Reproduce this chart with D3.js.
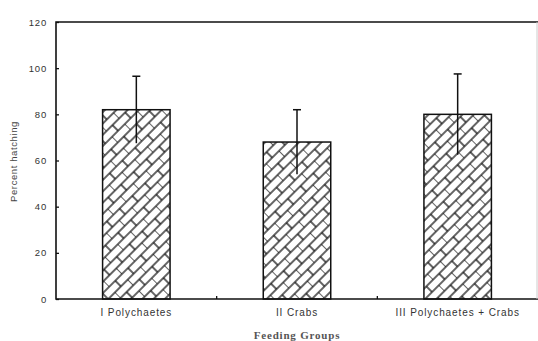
<!DOCTYPE html>
<html>
<head>
<meta charset="utf-8">
<script src="https://cdn.jsdelivr.net/npm/d3@7"></script>
<style>
  body { margin: 0; background: #fff; }
  svg { display: block; }
</style>
</head>
<body>
<svg id="chart" width="538" height="341"></svg>
<script>
// values
var groups = ["I Polychaetes", "II Crabs", "III Polychaetes + Crabs"];
var means = [82, 68, 80];
var errs = [14.5, 14, 17.5];
var yTicks = [0, 20, 40, 60, 80, 100, 120];

var W = 538, H = 341;
var m = {top: 22, right: 0, bottom: 42, left: 56};
var sans = "Liberation Sans, Arial, sans-serif";

var svg = d3.select("#chart");

var x = d3.scaleBand().domain(groups).range([m.left, W - m.right]).paddingInner(0).paddingOuter(0);
var y = d3.scaleLinear().domain([0, 120]).range([H - m.bottom, m.top]);

// brick-like diagonal hatch
var defs = svg.append("defs");
var pat = defs.append("pattern")
  .attr("id", "brick")
  .attr("patternUnits", "userSpaceOnUse")
  .attr("width", 18).attr("height", 16)
  .attr("patternTransform", "rotate(-45)");
pat.append("rect").attr("width", 18).attr("height", 16).attr("fill", "#fff");
[[0, 0, 18, 0], [0, 8, 18, 8], [0, 16, 18, 16], [0, 0, 0, 8], [9, 8, 9, 16]].forEach(function(l) {
  pat.append("line").attr("x1", l[0]).attr("y1", l[1]).attr("x2", l[2]).attr("y2", l[3])
    .attr("stroke", "#111").attr("stroke-width", 1.3);
});

var barW = x.bandwidth() * 0.42;

// bars
svg.selectAll("rect.bar").data(groups).enter().append("rect")
  .attr("class", "bar")
  .attr("x", function(d) { return x(d) + x.bandwidth() / 2 - barW / 2; })
  .attr("y", function(d, i) { return y(means[i]); })
  .attr("width", barW)
  .attr("height", function(d, i) { return y(0) - y(means[i]); })
  .attr("fill", "url(#brick)")
  .attr("stroke", "#111")
  .attr("stroke-width", 1.5);

// error bars (upper cap only, line runs down through the bar)
var eb = svg.selectAll("g.err").data(groups).enter().append("g").attr("class", "err");
eb.append("line")
  .attr("x1", function(d) { return x(d) + x.bandwidth() / 2; })
  .attr("x2", function(d) { return x(d) + x.bandwidth() / 2; })
  .attr("y1", function(d, i) { return y(means[i] + errs[i]); })
  .attr("y2", function(d, i) { return y(means[i] - errs[i]); })
  .attr("stroke", "#111").attr("stroke-width", 1.5);
eb.append("line")
  .attr("x1", function(d) { return x(d) + x.bandwidth() / 2 - 4; })
  .attr("x2", function(d) { return x(d) + x.bandwidth() / 2 + 4; })
  .attr("y1", function(d, i) { return y(means[i] + errs[i]); })
  .attr("y2", function(d, i) { return y(means[i] + errs[i]); })
  .attr("stroke", "#111").attr("stroke-width", 1.5);

// y axis with inward ticks
var yAxis = svg.append("g")
  .attr("transform", "translate(" + m.left + ",0)")
  .call(d3.axisLeft(y).tickValues(yTicks).tickSize(-3).tickPadding(9).tickFormat(d3.format("d")));
yAxis.select(".domain").remove();
yAxis.selectAll("line").attr("stroke", "#111").attr("stroke-width", 1.3);
yAxis.selectAll("text")
  .attr("font-family", sans)
  .attr("font-size", 9.5).attr("letter-spacing", 0.8).attr("fill", "#333");

// x axis: ticks between categories, inward
var xAxis = svg.append("g")
  .attr("transform", "translate(0," + y(0) + ")")
  .call(d3.axisBottom(x).tickSize(0).tickPadding(10));
xAxis.select(".domain").remove();
xAxis.selectAll("text")
  .attr("font-family", sans)
  .attr("font-size", 10).attr("letter-spacing", 0.9).attr("fill", "#333");
svg.selectAll("line.sep").data(groups.slice(1)).enter().append("line")
  .attr("class", "sep")
  .attr("x1", function(d) { return x(d); }).attr("x2", function(d) { return x(d); })
  .attr("y1", y(0)).attr("y2", y(0) - 3)
  .attr("stroke", "#111").attr("stroke-width", 1.3);

// frame
svg.append("path")
  .attr("d", "M" + W + "," + m.top + "H" + m.left + "V" + y(0) + "H" + W)
  .attr("fill", "none").attr("stroke", "#111").attr("stroke-width", 1.6);
svg.append("line")
  .attr("x1", W - 1).attr("x2", W - 1).attr("y1", m.top).attr("y2", y(0))
  .attr("stroke", "#ccc").attr("stroke-width", 1);

// axis titles
svg.append("text")
  .attr("transform", "translate(17," + ((m.top + y(0)) / 2 + 1) + ") rotate(-90)")
  .attr("text-anchor", "middle")
  .attr("font-family", sans)
  .attr("font-size", 9.5).attr("letter-spacing", 0.6).attr("fill", "#444")
  .text("Percent hatching");
svg.append("text")
  .attr("x", x(groups[1]) + x.bandwidth() / 2).attr("y", 339)
  .attr("text-anchor", "middle")
  .attr("font-family", "Liberation Serif, Times New Roman, serif")
  .attr("font-size", 11).attr("font-weight", "bold").attr("letter-spacing", 0.8).attr("fill", "#555")
  .text("Feeding Groups");
</script>
</body>
</html>
